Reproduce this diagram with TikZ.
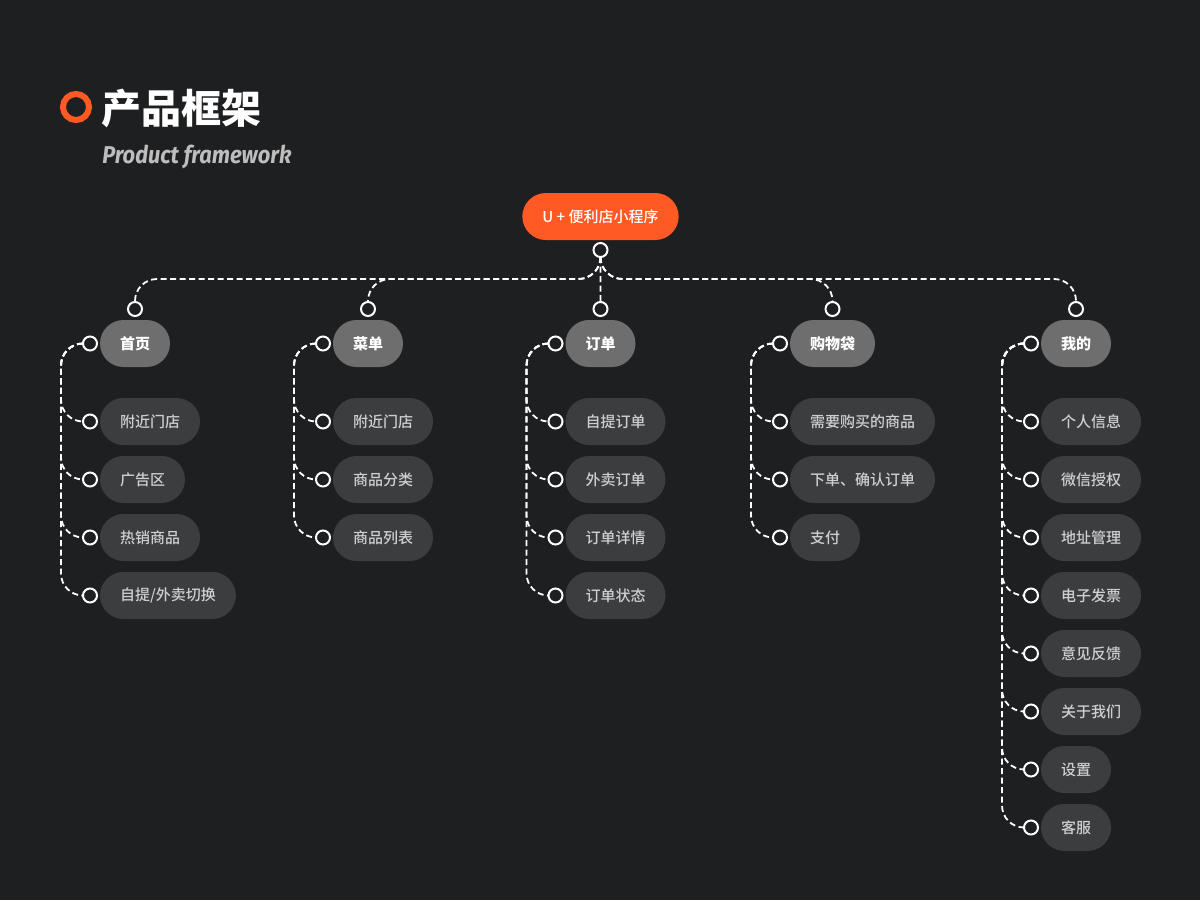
\documentclass[tikz,border=0pt]{standalone}
\usepackage{fontspec}
\usepackage{tikz}
\usetikzlibrary{positioning}
\newfontfamily\cjk{Noto Sans CJK SC}
\newfontfamily\cjkmed{Noto Sans CJK SC Medium}
\newfontfamily\latin[FakeStretch=0.9]{Fira Sans}
\definecolor{bg}{HTML}{1E1F21}
\definecolor{brand}{HTML}{FF5A23}
\definecolor{catgray}{HTML}{6E6E6E}
\definecolor{leafgray}{HTML}{3C3D3F}
\definecolor{leaftext}{HTML}{CFCFCF}
\definecolor{subgray}{HTML}{BDBDBD}
\newlength\pxu \setlength\pxu{0.025cm}

\begin{document}
\begin{tikzpicture}[x=0.025cm,y=-0.025cm,every node/.style={font=\cjkmed\fontsize{10.67pt}{12pt}\selectfont}]
\tikzstyle{pill}=[rectangle,rounded corners=23.5\pxu,minimum height=47\pxu,inner xsep=20\pxu,inner ysep=0pt,outer sep=0pt]
\tikzstyle{root}=[pill,fill=brand,text=white]
\tikzstyle{cat}=[pill,fill=catgray,text=white,font=\cjk\bfseries\fontsize{10.67pt}{12pt}\selectfont]
\tikzstyle{leaf}=[pill,fill=leafgray,text=leaftext]
\tikzstyle{dot}=[circle,draw=white,line width=2\pxu,fill=bg,minimum size=14\pxu,inner sep=0pt,outer sep=0pt]
\tikzstyle{link}=[draw=white,line width=1.8\pxu,dash pattern=on 6\pxu off 3.5\pxu,rounded corners=22\pxu]
\fill[bg] (0,0) rectangle (1200,900);
% title
\node[circle,draw=brand,line width=6\pxu,minimum size=26\pxu,inner sep=0pt] (ring) at (76,107) {};
\node[anchor=west,inner sep=0pt,text=white,font=\cjk\bfseries\fontsize{28.45pt}{30pt}\selectfont] (title) at (101,108) {产品框架};
\node[anchor=west,inner sep=0pt,text=subgray,font=\latin\bfseries\itshape\fontsize{17.3pt}{18pt}\selectfont] (sub) at (102,157) {Product framework};
% root
\node[root] (app) at (600.5,216.5) {U + 便利店小程序};
\node[dot,below=3\pxu of app] (appc) {};
% columns
\node[cat,anchor=west] (home) at (100,343.5) {首页};
\node[cat,anchor=west] (menu) at (333,343.5) {菜单};
\node[cat,anchor=west] (order) at (565.5,343.5) {订单};
\node[cat,anchor=west] (bag) at (790,343.5) {购物袋};
\node[cat,anchor=west] (mine) at (1041,343.5) {我的};
\node[dot,above=4\pxu of home] (homet) {};\node[dot,left=3\pxu of home] (homec) {};
\node[dot,above=4\pxu of menu] (menut) {};\node[dot,left=3\pxu of menu] (menuc) {};
\node[dot,above=4\pxu of order] (ordert) {};\node[dot,left=3\pxu of order] (orderc) {};
\node[dot,above=4\pxu of bag] (bagt) {};\node[dot,left=3\pxu of bag] (bagc) {};
\node[dot,above=4\pxu of mine] (minet) {};\node[dot,left=3\pxu of mine] (minec) {};
\draw[link] (appc.south) -- ++(0,22) -| (homet.north);
\draw[link] (appc.south) -- ++(0,22) -| (menut.north);
\draw[link] (appc.south) -- (ordert.north);
\draw[link] (appc.south) -- ++(0,22) -| (bagt.north);
\draw[link] (appc.south) -- ++(0,22) -| (minet.north);
% 首页
\node[leaf,below=31\pxu of home.south west,anchor=north west] (home1) {附近门店};
\node[leaf,below=11\pxu of home1.south west,anchor=north west] (home2) {广告区};
\node[leaf,below=11\pxu of home2.south west,anchor=north west] (home3) {热销商品};
\node[leaf,below=11\pxu of home3.south west,anchor=north west] (home4) {自提/外卖切换};
\node[dot,left=3\pxu of home1] (home1c) {};\node[dot,left=3\pxu of home2] (home2c) {};
\node[dot,left=3\pxu of home3] (home3c) {};\node[dot,left=3\pxu of home4] (home4c) {};
\draw[link] (homec.west) -- ++(-22,0) |- (home1c.west);\draw[link] (homec.west) -- ++(-22,0) |- (home2c.west);
\draw[link] (homec.west) -- ++(-22,0) |- (home3c.west);\draw[link] (homec.west) -- ++(-22,0) |- (home4c.west);
% 菜单
\node[leaf,below=31\pxu of menu.south west,anchor=north west] (menu1) {附近门店};
\node[leaf,below=11\pxu of menu1.south west,anchor=north west] (menu2) {商品分类};
\node[leaf,below=11\pxu of menu2.south west,anchor=north west] (menu3) {商品列表};
\node[dot,left=3\pxu of menu1] (menu1c) {};\node[dot,left=3\pxu of menu2] (menu2c) {};
\node[dot,left=3\pxu of menu3] (menu3c) {};
\draw[link] (menuc.west) -- ++(-22,0) |- (menu1c.west);\draw[link] (menuc.west) -- ++(-22,0) |- (menu2c.west);
\draw[link] (menuc.west) -- ++(-22,0) |- (menu3c.west);
% 订单
\node[leaf,below=31\pxu of order.south west,anchor=north west] (order1) {自提订单};
\node[leaf,below=11\pxu of order1.south west,anchor=north west] (order2) {外卖订单};
\node[leaf,below=11\pxu of order2.south west,anchor=north west] (order3) {订单详情};
\node[leaf,below=11\pxu of order3.south west,anchor=north west] (order4) {订单状态};
\node[dot,left=3\pxu of order1] (order1c) {};\node[dot,left=3\pxu of order2] (order2c) {};
\node[dot,left=3\pxu of order3] (order3c) {};\node[dot,left=3\pxu of order4] (order4c) {};
\draw[link] (orderc.west) -- ++(-22,0) |- (order1c.west);\draw[link] (orderc.west) -- ++(-22,0) |- (order2c.west);
\draw[link] (orderc.west) -- ++(-22,0) |- (order3c.west);\draw[link] (orderc.west) -- ++(-22,0) |- (order4c.west);
% 购物袋
\node[leaf,below=31\pxu of bag.south west,anchor=north west] (bag1) {需要购买的商品};
\node[leaf,below=11\pxu of bag1.south west,anchor=north west] (bag2) {下单、确认订单};
\node[leaf,below=11\pxu of bag2.south west,anchor=north west] (bag3) {支付};
\node[dot,left=3\pxu of bag1] (bag1c) {};\node[dot,left=3\pxu of bag2] (bag2c) {};
\node[dot,left=3\pxu of bag3] (bag3c) {};
\draw[link] (bagc.west) -- ++(-22,0) |- (bag1c.west);\draw[link] (bagc.west) -- ++(-22,0) |- (bag2c.west);
\draw[link] (bagc.west) -- ++(-22,0) |- (bag3c.west);
% 我的
\node[leaf,below=31\pxu of mine.south west,anchor=north west] (mine1) {个人信息};
\node[leaf,below=11\pxu of mine1.south west,anchor=north west] (mine2) {微信授权};
\node[leaf,below=11\pxu of mine2.south west,anchor=north west] (mine3) {地址管理};
\node[leaf,below=11\pxu of mine3.south west,anchor=north west] (mine4) {电子发票};
\node[leaf,below=11\pxu of mine4.south west,anchor=north west] (mine5) {意见反馈};
\node[leaf,below=11\pxu of mine5.south west,anchor=north west] (mine6) {关于我们};
\node[leaf,below=11\pxu of mine6.south west,anchor=north west] (mine7) {设置};
\node[leaf,below=11\pxu of mine7.south west,anchor=north west] (mine8) {客服};
\node[dot,left=3\pxu of mine1] (mine1c) {};\node[dot,left=3\pxu of mine2] (mine2c) {};
\node[dot,left=3\pxu of mine3] (mine3c) {};\node[dot,left=3\pxu of mine4] (mine4c) {};
\node[dot,left=3\pxu of mine5] (mine5c) {};\node[dot,left=3\pxu of mine6] (mine6c) {};
\node[dot,left=3\pxu of mine7] (mine7c) {};\node[dot,left=3\pxu of mine8] (mine8c) {};
\draw[link] (minec.west) -- ++(-22,0) |- (mine1c.west);\draw[link] (minec.west) -- ++(-22,0) |- (mine2c.west);
\draw[link] (minec.west) -- ++(-22,0) |- (mine3c.west);\draw[link] (minec.west) -- ++(-22,0) |- (mine4c.west);
\draw[link] (minec.west) -- ++(-22,0) |- (mine5c.west);\draw[link] (minec.west) -- ++(-22,0) |- (mine6c.west);
\draw[link] (minec.west) -- ++(-22,0) |- (mine7c.west);\draw[link] (minec.west) -- ++(-22,0) |- (mine8c.west);
\end{tikzpicture}
\end{document}
